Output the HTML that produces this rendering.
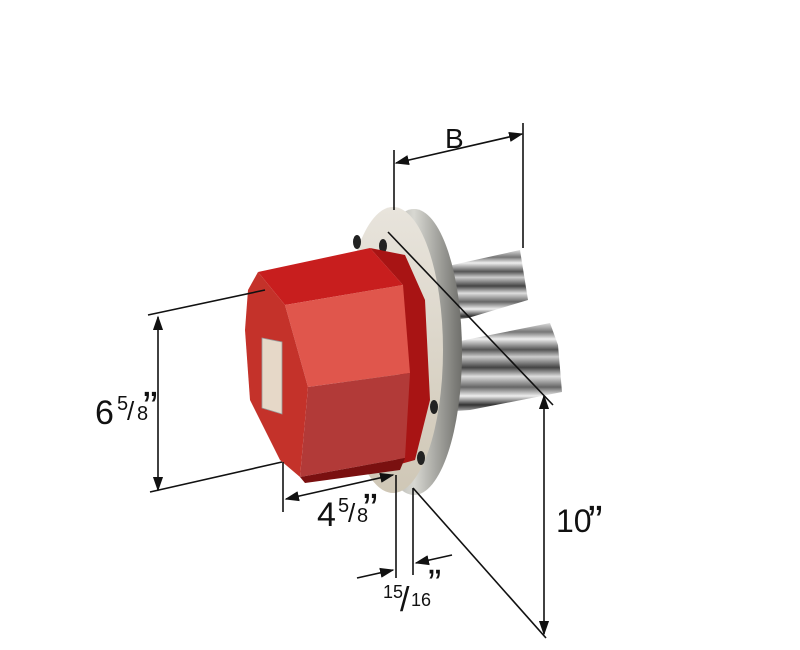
<!DOCTYPE html>
<html><head><meta charset="utf-8"><style>
html,body{margin:0;padding:0;background:#fff;width:800px;height:650px;overflow:hidden}
svg{display:block}
text{font-family:"Liberation Sans",sans-serif;fill:#111}
</style></head><body>
<svg width="800" height="650" viewBox="0 0 800 650">
<defs>
<marker id="a" viewBox="0 0 10 10" refX="9" refY="5" markerWidth="9" markerHeight="9" orient="auto-start-reverse"><path d="M0,1.5 L10,5 L0,8.5 z" fill="#111"/></marker>
<linearGradient id="rim" x1="0" y1="0" x2="1" y2="0"><stop offset="0" stop-color="#8a8a86"/><stop offset="0.5" stop-color="#d8d8d2"/><stop offset="1" stop-color="#6e6e6a"/></linearGradient>
<linearGradient id="face" x1="0" y1="0" x2="0" y2="1"><stop offset="0" stop-color="#e8e4dc"/><stop offset="1" stop-color="#cfc7b6"/></linearGradient>
<linearGradient id="rods" x1="0" y1="0" x2="0" y2="1">
<stop offset="0" stop-color="#ddd"/><stop offset="0.1" stop-color="#777"/><stop offset="0.18" stop-color="#eee"/><stop offset="0.3" stop-color="#555"/><stop offset="0.38" stop-color="#ccc"/><stop offset="0.5" stop-color="#444"/><stop offset="0.6" stop-color="#ddd"/><stop offset="0.72" stop-color="#666"/><stop offset="0.82" stop-color="#eee"/><stop offset="0.92" stop-color="#333"/><stop offset="1" stop-color="#bbb"/></linearGradient>
</defs>
<polygon points="430,270 520,250 524,275 528,300 468,318 430,322" fill="url(#rods)"/>
<polygon points="440,345 550,323 558,345 562,392 470,410 440,412" fill="url(#rods)"/>
<ellipse cx="414" cy="352" rx="48" ry="143" fill="url(#rim)"/>
<ellipse cx="393" cy="350" rx="50" ry="143" fill="url(#face)"/>
<ellipse cx="357" cy="242" rx="4" ry="7" fill="#222"/>
<ellipse cx="383" cy="246" rx="4" ry="7" fill="#222"/>
<ellipse cx="413" cy="320" rx="4" ry="7" fill="#222"/>
<ellipse cx="434" cy="407" rx="4" ry="7" fill="#222"/>
<ellipse cx="421" cy="458" rx="4" ry="7" fill="#222"/>
<polygon points="370,248 405,255 425,300 430,400 415,460 397,465 403,285" fill="#a81414"/>
<polygon points="258,272 370,248 403,285 285,305" fill="#c81e1e"/>
<polygon points="285,305 403,285 410,373 308,387" fill="#e0564c"/>
<polygon points="308,387 410,373 405,458 300,477" fill="#b23a38"/>
<polygon points="258,272 285,305 308,387 300,477 280,460 250,400 245,330 248,290" fill="#c4322a"/>
<polygon points="300,477 405,458 400,470 305,483" fill="#7a1010"/>
<polygon points="262,338 282,342 282,414 262,408" fill="#e6d8c8" stroke="#999" stroke-width="0.8"/>
<g stroke="#111" stroke-width="1.6" fill="none">
<line x1="394" y1="150" x2="394" y2="210"/>
<line x1="523" y1="123" x2="523" y2="248"/>
<line x1="396" y1="163" x2="522" y2="134" marker-start="url(#a)" marker-end="url(#a)"/>
<line x1="388" y1="232" x2="553" y2="405"/>
<line x1="544" y1="396" x2="544" y2="634" marker-start="url(#a)" marker-end="url(#a)"/>
<line x1="413" y1="488" x2="546" y2="638"/>
<line x1="148" y1="315" x2="265" y2="290"/>
<line x1="150" y1="492" x2="282" y2="462"/>
<line x1="158" y1="317" x2="158" y2="490" marker-start="url(#a)" marker-end="url(#a)"/>
<line x1="283" y1="462" x2="283" y2="512"/>
<line x1="396" y1="475" x2="396" y2="578"/>
<line x1="413" y1="488" x2="413" y2="575"/>
<line x1="286" y1="499" x2="393" y2="475" marker-start="url(#a)" marker-end="url(#a)"/>
<line x1="357" y1="578" x2="393" y2="570" marker-end="url(#a)"/>
<line x1="452" y1="555" x2="416" y2="563" marker-end="url(#a)"/>
</g>
<text x="445" y="148" font-size="28">B</text>
<text x="95" y="424" font-size="34">6</text><text x="117" y="410" font-size="20">5</text><text x="127" y="420" font-size="26">/</text><text x="137" y="420" font-size="20">8</text><text x="143" y="422" font-size="44">”</text>
<text x="317" y="526" font-size="34">4</text><text x="338" y="512" font-size="20">5</text><text x="348" y="522" font-size="26">/</text><text x="357" y="522" font-size="20">8</text><text x="363" y="524" font-size="44">”</text>
<text x="556" y="532" font-size="32">10</text><text x="588" y="536" font-size="44">”</text>
<text x="383" y="598" font-size="18">15</text><text x="400" y="611" font-size="34">/</text><text x="411" y="606" font-size="18">16</text><text x="428" y="597" font-size="40">”</text>
</svg>
</body></html>
